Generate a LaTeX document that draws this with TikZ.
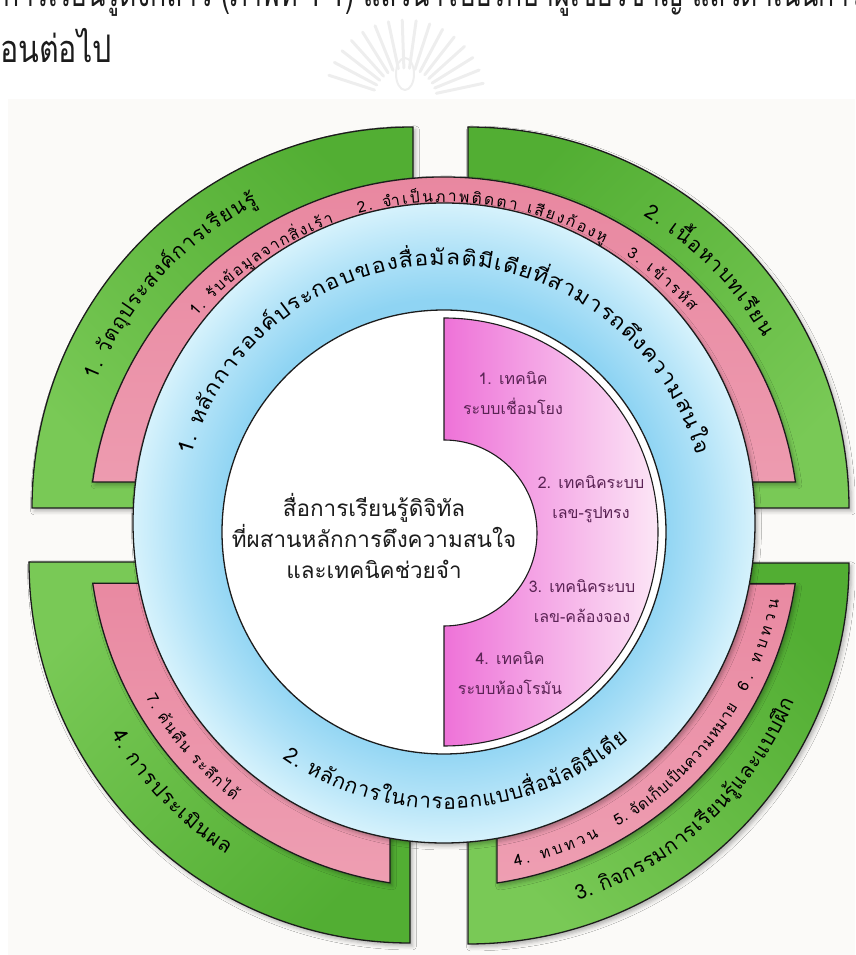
\documentclass[tikz,border=0pt]{standalone}
\usepackage{fontspec}
\newfontfamily\thaifont[Script=Thai]{Loma}
\newfontfamily\thaiwidefont[Script=Thai,FakeStretch=1.1]{Loma}
\newfontfamily\thaiheadfont[Script=Thai,FakeStretch=0.7]{Loma}
\newfontfamily\thaiheadwidefont[Script=Thai,FakeStretch=0.8]{Loma}
\usetikzlibrary{decorations.text,shadows.blur,calc}

\definecolor{paper}{HTML}{FBFAF8}
\definecolor{gdark}{HTML}{52AE33}
\definecolor{gmid}{HTML}{79C956}
\definecolor{glight}{HTML}{C0E98C}
\definecolor{rose}{HTML}{E8869F}
\definecolor{roselight}{HTML}{EE9EB2}
\definecolor{skyin}{HTML}{8FD4F3}
\definecolor{skymid}{HTML}{AEE1F7}
\definecolor{skyout}{HTML}{D6F2FC}
\definecolor{orchid}{HTML}{EE72D8}
\definecolor{orchidmid}{HTML}{F6B4E6}
\definecolor{orchidlight}{HTML}{FCE6F6}
\definecolor{plumtext}{HTML}{5A2354}
\definecolor{ink}{HTML}{1C1C1C}
\definecolor{crest}{HTML}{EEEEEE}

\pgfdeclareradialshading{skyring}{\pgfpointorigin}{color(0bp)=(skyin); color(17.5bp)=(skyin); color(21bp)=(skymid); color(25bp)=(skyout); color(50bp)=(skyout)}

\newcommand\gfont{\thaifont\fontsize{20.5}{24}\selectfont}
\newcommand\pfont{\thaifont\fontsize{15.5}{20}\selectfont}
\newcommand\bfont{\thaiwidefont\fontsize{21}{24}\selectfont}
\newcommand\bbfont{\thaifont\fontsize{21}{24}\selectfont}

% text set along a circular arc: centre, radius, start angle, end angle, raise, text
\newcommand\arclabel[6]{%
  \path[decorate, decoration={text along path, text align=fit to path,
        raise=#5, text={#6}}]
    (#1) ++(#3:#2) arc[start angle=#3, end angle=#4, radius=#2];}

\tikzset{
  edge/.style={draw=ink, line width=1.3pt},
  softshadow/.style={blur shadow={shadow xshift=2.5pt, shadow yshift=-3pt,
      shadow blur radius=4pt, shadow opacity=30}},
  greenTL/.style={edge, softshadow, top color=gmid, middle color=glight,
      bottom color=gdark, shading angle=135},
  greenTR/.style={edge, softshadow, top color=gdark, middle color=glight,
      bottom color=gmid, shading angle=45},
  greenBL/.style={edge, softshadow, top color=gmid, middle color=glight,
      bottom color=gdark, shading angle=45},
  greenBR/.style={edge, softshadow, top color=gmid, middle color=glight,
      bottom color=gdark, shading angle=135},
  pinkband/.style={edge, softshadow, top color=rose, bottom color=roselight},
  skyband/.style={edge, softshadow, shading=skyring},
  whitedisc/.style={edge, fill=white},
  orchidpart/.style={edge, line width=1.1pt, left color=orchid,
      middle color=orchidmid, right color=orchidlight},
  techlabel/.style={align=center, text=plumtext,
      font=\thaifont\fontsize{16}{30}\selectfont, inner sep=0pt},
  headtext/.style={text=ink, inner sep=0pt,
      font=\thaiheadfont\fontsize{38}{40}\selectfont},
}

\begin{document}
\begin{tikzpicture}[x=1pt,y=1pt]
\useasboundingbox (0,0) rectangle (855,955);
\clip (0,0) rectangle (855,955);

% faint crest behind the page heading
\coordinate (crestc) at (405,855);
\foreach \a in {12,22,...,168}
  \draw[crest, line width=3pt, line cap=round]
    ($(crestc)+(\a:32)$) -- ($(crestc)+(\a:80)$);
\draw[crest, line width=2pt] ($(crestc)+(0,26)$) ellipse[x radius=9, y radius=16];

% paper area
\fill[paper] (8,0) rectangle (855,856);

% heading lines
\node[headtext, anchor=base west] (head1) at (3,948)
  {การเรียนรู้ดังกล่าว (ภาพที่ 4-1) แล้วนำไปปรึกษาผู้เชี่ยวชาญ แล้วดำเนินการสร้าง};
\node[headtext, font=\thaiheadwidefont\fontsize{38}{40}\selectfont, anchor=base east]
  (head2) at (112,892) {ขั้นตอนต่อไป};

% outer green quadrants
\coordinate (gTL) at (413,447);
\coordinate (gTR) at (468,447);
\coordinate (gBL) at (410,393);
\coordinate (gBR) at (468,392);
\path[greenTL] (gTL) -- ++(180:381) arc[start angle=180, end angle=90, radius=381] -- cycle;
\path[greenTR] (gTR) -- ++(90:381) arc[start angle=90, end angle=0, radius=381] -- cycle;
\path[greenBL] (gBL) -- ++(270:381) arc[start angle=270, end angle=180, radius=381] -- cycle;
\path[greenBR] (gBR) -- ++(0:381) arc[start angle=0, end angle=-90, radius=381] -- cycle;

% pink bands, cut from one circle round the centre
\coordinate (hub) at (444,423);
\path[pinkband] (hub) ++(171.9:355) arc[start angle=171.9, end angle=8.1, radius=355] -- cycle;
\path[pinkband] (hub) ++(188.3:355) arc[start angle=188.3, end angle=261.25, radius=355]
  -- (390,372) -- cycle;
\path[pinkband] (hub) ++(278.6:355) arc[start angle=278.6, end angle=351.6, radius=355]
  -- (497,371) -- cycle;

% blue ring and white core
\coordinate (sky) at (444,432);
\path[skyband] (sky) ellipse[x radius=311, y radius=320];
\path[whitedisc] (hub) circle[radius=222];
\path[orchidpart] (444,637) arc[start angle=90, end angle=-90, radius=214]
  -- (444,329) arc[start angle=-90, end angle=90, radius=93] -- cycle;

% green labels
\arclabel{gTL}{346}{158}{117}{-5pt}{|\gfont|1. {วั}ต{ถุ}ประสง{ค์}การเ{รี}ยน{รู้}}
\arclabel{gTR}{346}{59}{30}{-5pt}{|\gfont|2. เ{นื้}อหาบทเ{รี}ยน}
\arclabel{gBR}{350}{-72}{-23}{-5pt}{|\gfont|3. {กิ}จกรรมการเ{รี}ยน{รู้}และแบบ{ฝึ}ก}
\arclabel{gBL}{340}{210}{238}{-5pt}{|\gfont|4. การประเ{มิ}นผล}

% pink labels
\arclabel{hub}{332}{139}{109.6}{-4pt}{|\pfont|1. {รั}บ{ข้}อ{มู}ลจาก{สิ่}งเ{ร้}า}
\arclabel{hub}{334}{105}{61}{-4pt}{|\pfont|2. {จำ}เ{ป็}นภาพ{ติ}ดตา เ{สี}ยง{ก้}อง{หู}}
\arclabel{hub}{335}{56.6}{41.7}{-4pt}{|\pfont|3. เ{ข้}าร{หั}ส}
\arclabel{hub}{338}{-78}{-63}{-4pt}{|\pfont|4. ทบทวน}
\arclabel{hub}{338}{-59.5}{-30.8}{-4pt}{|\pfont|5. {จั}ดเ{ก็}บเ{ป็}นความหมาย}
\arclabel{hub}{338}{-28}{-11.5}{-4pt}{|\pfont|6. ทบทวน}
\arclabel{hub}{337}{209}{232}{-4pt}{|\pfont|7. {ค้}น{คื}น ระ{ลึ}กไ{ด้}}

% blue labels
\coordinate (skytext) at (444,427);
\arclabel{skytext}{268}{164}{16}{-5pt}{|\bfont|1. ห{ลั}กการอง{ค์}ประกอบของ{สื่}อ{มั}ล{ติ}{มี}เ{ดี}ย{ที่}สามารถ{ดึ}งความสนใจ}
\arclabel{skytext}{276}{235}{311}{-5pt}{|\bbfont|2. ห{ลั}กการในการออกแบบ{สื่}อ{มั}ล{ติ}{มี}เ{ดี}ย}

% central title and techniques
\node[align=center, text=ink, inner sep=0pt,
      font=\thaifont\fontsize{22.5}{31}\selectfont] (title) at (374,419)
  {สื่อการเรียนรู้ดิจิทัล\\ที่ผสานหลักการดึงความสนใจ\\และเทคนิคช่วยจำ};
\node[techlabel] (tech1) at (513,562) {1. เทคนิค\\ระบบเชื่อมโยง};
\node[techlabel] (tech2) at (591,456) {2. เทคนิคระบบ\\เลข-รูปทรง};
\node[techlabel] (tech3) at (582,354) {3. เทคนิคระบบ\\เลข-คล้องจอง};
\node[techlabel] (tech4) at (510,282) {4. เทคนิค\\ระบบห้องโรมัน};
\end{tikzpicture}
\end{document}
